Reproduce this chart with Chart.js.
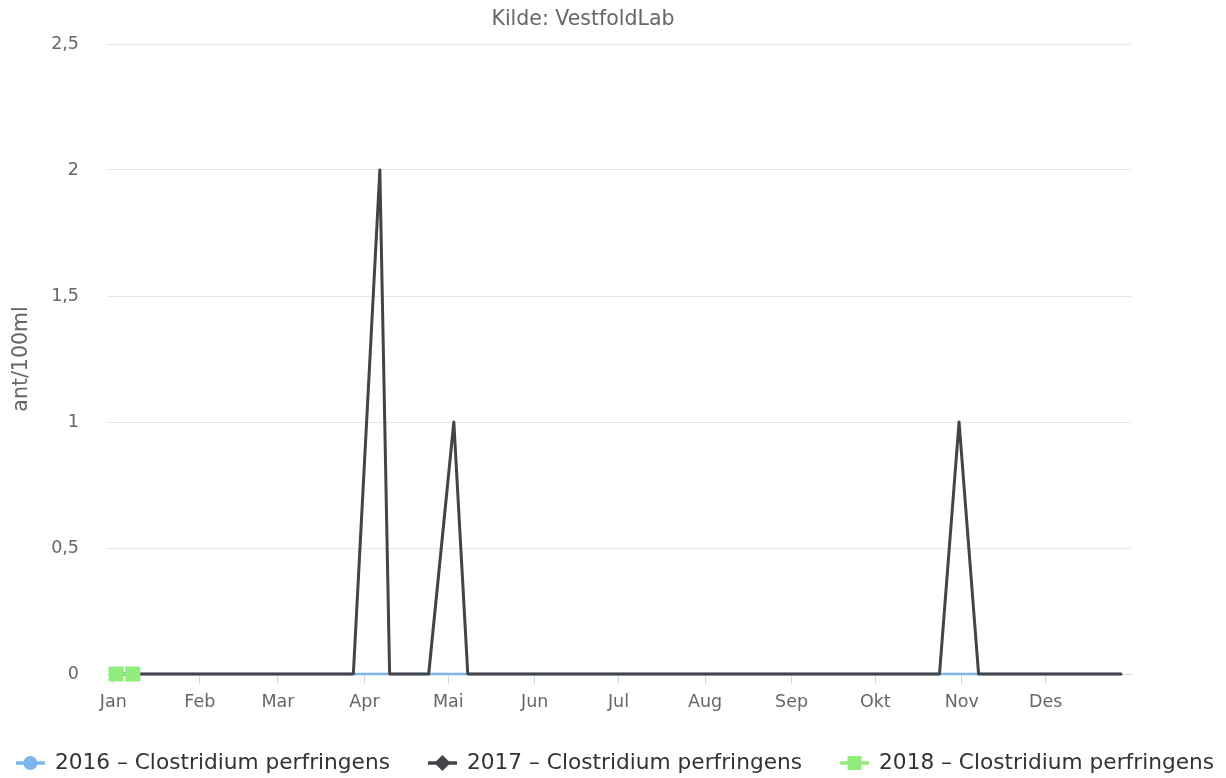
<!DOCTYPE html>
<html>
<head>
<meta charset="utf-8">
<script src="https://cdn.jsdelivr.net/npm/chart.js@4.4.0/dist/chart.umd.min.js"></script>
<style>
  html, body { margin: 0; padding: 0; background: #ffffff; }
  #c { display: block; }
</style>
</head>
<body>
<canvas id="c" width="1226" height="778"></canvas>
<script>
// ---- Data ----
const chartTitle = 'Kilde: VestfoldLab';
const yAxisTitle = 'ant/100ml';
const monthLabels = ['Jan', 'Feb', 'Mar', 'Apr', 'Mai', 'Jun', 'Jul', 'Aug', 'Sep', 'Okt', 'Nov', 'Des'];
const monthStartDays = [0, 31, 59, 90, 120, 151, 181, 212, 243, 273, 304, 334];
const yTickValues = [0, 0.5, 1, 1.5, 2, 2.5];
const yTickLabels = ['0', '0,5', '1', '1,5', '2', '2,5'];
const seriesNames = ['2016 – Clostridium perfringens', '2017 – Clostridium perfringens', '2018 – Clostridium perfringens'];
// day-of-year (0 = 1 Jan) and values
const days2016 = [1, 86, 95.5, 99, 113, 122, 127, 296, 303, 310, 361];
const values2016 = [0, 0, 0, 0, 0, 0, 0, 0, 0, 0, 0];
const days2017 = [1, 86, 95.5, 99, 113, 122, 127, 296, 303, 310, 361];
const values2017 = [0, 0, 2, 0, 0, 1, 0, 0, 1, 0, 0];
const days2018 = [1, 7];
const values2018 = [0, 0];

const colors = ['#7cb5ec', '#434348', '#90ed7d'];
const FONT = '"DejaVu Sans", Verdana, sans-serif';

function toPoints(days, vals) { return days.map((d, i) => ({ x: d, y: vals[i] })); }

// legend + title drawn as canvas text
const extrasPlugin = {
  id: 'extras',
  afterDraw(chart) {
    const ctx = chart.ctx;
    ctx.save();
    // title
    ctx.font = '20.5px ' + FONT;
    ctx.fillStyle = '#666666';
    ctx.textAlign = 'center';
    ctx.textBaseline = 'middle';
    ctx.fillText(chartTitle, 583, 20);

    // legend
    const legendFont = '21.7px ' + FONT;
    ctx.font = legendFont;
    const symW = 29, gap = 10, itemGap = 38, y = 763;
    const widths = seriesNames.map(t => symW + gap + ctx.measureText(t).width);
    const total = widths.reduce((a, b) => a + b, 0) + itemGap * (widths.length - 1);
    let x = (chart.width - total) / 2 + 2;
    seriesNames.forEach((name, i) => {
      const cx = x + symW / 2;
      ctx.strokeStyle = colors[i];
      ctx.fillStyle = colors[i];
      ctx.lineWidth = 3.5;
      ctx.beginPath();
      ctx.moveTo(x, y);
      ctx.lineTo(x + symW, y);
      ctx.stroke();
      ctx.beginPath();
      if (i === 0) {
        ctx.arc(cx, y, 7, 0, Math.PI * 2);
      } else if (i === 1) {
        ctx.moveTo(cx, y - 8); ctx.lineTo(cx + 8, y); ctx.lineTo(cx, y + 8); ctx.lineTo(cx - 8, y); ctx.closePath();
      } else {
        ctx.rect(cx - 7, y - 7, 14, 14);
      }
      ctx.fill();
      ctx.fillStyle = '#333333';
      ctx.textAlign = 'left';
      ctx.textBaseline = 'middle';
      ctx.font = legendFont;
      ctx.fillText(name, x + symW + gap, y);
      x += widths[i] + itemGap;
    });
    ctx.restore();
  }
};

new Chart(document.getElementById('c'), {
  type: 'line',
  data: {
    datasets: [
      {
        label: seriesNames[0],
        data: toPoints(days2016, values2016),
        borderColor: colors[0], backgroundColor: colors[0],
        borderWidth: 2.5, pointRadius: 0, order: 3, clip: false,
        borderJoinStyle: 'round', borderCapStyle: 'round'
      },
      {
        label: seriesNames[1],
        data: toPoints(days2017, values2017),
        borderColor: colors[1], backgroundColor: colors[1],
        borderWidth: 3, pointRadius: 0, order: 2, clip: false,
        borderJoinStyle: 'round', borderCapStyle: 'round'
      },
      {
        label: seriesNames[2],
        data: toPoints(days2018, values2018),
        borderColor: colors[2], backgroundColor: colors[2],
        borderWidth: 2.5, order: 1, clip: false,
        pointStyle: 'rect', pointRadius: 10.6, pointBorderWidth: 0,
        pointBackgroundColor: colors[2]
      }
    ]
  },
  options: {
    responsive: false,
    animation: false,
    devicePixelRatio: 1,
    layout: { padding: { left: 0, right: 95, top: 44, bottom: 64 } },
    plugins: {
      legend: { display: false },
      tooltip: { enabled: false },
      title: { display: false }
    },
    scales: {
      x: {
        type: 'linear',
        min: -2.25,
        max: 364.6,
        afterBuildTicks: (s) => { s.ticks = monthStartDays.map(v => ({ value: v })); },
        afterFit: (s) => { s.height = 40; },
        grid: { display: true, drawOnChartArea: false, drawTicks: true, tickLength: 10, color: '#ccd6eb', lineWidth: 1 },
        border: { display: true, color: '#ccd6eb', width: 1 },
        ticks: {
          autoSkip: false, maxRotation: 0, padding: 8,
          color: '#666666', font: { family: FONT, size: 17.5 },
          callback: (v, i) => monthLabels[i]
        }
      },
      y: {
        min: 0,
        max: 2.5,
        afterBuildTicks: (s) => { s.ticks = yTickValues.map(v => ({ value: v })); },
        afterFit: (s) => { s.width = 107; },
        grid: { color: '#e6e6e6', lineWidth: 1, drawTicks: false },
        border: { display: false },
        ticks: {
          padding: 28,
          color: '#666666', font: { family: FONT, size: 17.5 },
          callback: (v, i) => yTickLabels[i]
        },
        title: {
          display: true, text: yAxisTitle, color: '#666666',
          font: { family: FONT, size: 20.5 }, padding: { top: 9, bottom: 0 }
        }
      }
    }
  },
  plugins: [extrasPlugin]
});
</script>
</body>
</html>
